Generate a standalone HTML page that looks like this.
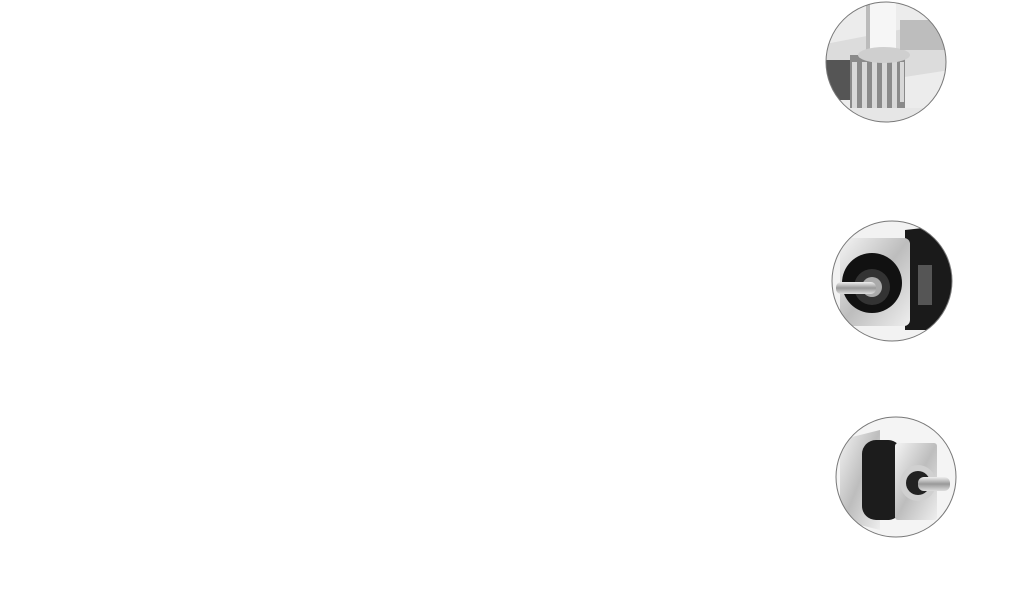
<!DOCTYPE html>
<html><head><meta charset="utf-8"><style>
html,body{margin:0;padding:0;background:#fff;width:1020px;height:608px;overflow:hidden}
svg{position:absolute;left:0;top:0}
</style></head><body>
<svg width="1020" height="608" viewBox="0 0 1020 608">
<defs>
<clipPath id="c1"><circle cx="886" cy="62" r="60"/></clipPath>
<clipPath id="c2"><circle cx="892" cy="281" r="60"/></clipPath>
<clipPath id="c3"><circle cx="896" cy="477" r="60"/></clipPath>
<linearGradient id="sil" x1="0" y1="0" x2="1" y2="1"><stop offset="0" stop-color="#f4f4f4"/><stop offset="0.5" stop-color="#bdbdbd"/><stop offset="1" stop-color="#eee"/></linearGradient>
<linearGradient id="shaft" x1="0" y1="0" x2="0" y2="1"><stop offset="0" stop-color="#eee"/><stop offset="0.5" stop-color="#999"/><stop offset="1" stop-color="#ddd"/></linearGradient>
</defs>
<!-- circle 1: gear rack -->
<g clip-path="url(#c1)">
<rect x="820" y="0" width="130" height="125" fill="#ececec"/>
<polygon points="820,45 950,20 950,70 820,90" fill="#dcdcdc"/>
<rect x="825" y="60" width="25" height="40" fill="#555"/>
<rect x="850" y="55" width="55" height="55" fill="#8a8a8a"/>
<g fill="#d8d8d8">
<rect x="852" y="62" width="5" height="46"/><rect x="862" y="62" width="5" height="46"/><rect x="872" y="62" width="5" height="46"/><rect x="882" y="62" width="5" height="46"/><rect x="892" y="62" width="5" height="46"/><rect x="900" y="62" width="4" height="40"/>
</g>
<rect x="868" y="0" width="28" height="52" fill="#f6f6f6"/>
<rect x="866" y="0" width="4" height="52" fill="#bbb"/>
<ellipse cx="884" cy="55" rx="26" ry="8" fill="#cfcfcf"/>
<rect x="900" y="20" width="45" height="30" fill="#bdbdbd"/>
<rect x="820" y="108" width="130" height="20" fill="#e6e6e6"/>
</g>
<circle cx="886" cy="62" r="60" fill="none" stroke="#777" stroke-width="1"/>
<!-- circle 2: servo motor -->
<g clip-path="url(#c2)">
<rect x="830" y="219" width="125" height="125" fill="#f2f2f2"/>
<polygon points="905,230 950,225 955,330 905,330" fill="#1a1a1a"/>
<rect x="840" y="238" width="70" height="88" rx="6" fill="url(#sil)"/>
<circle cx="872" cy="283" r="30" fill="#111"/>
<circle cx="872" cy="287" r="18" fill="#333"/>
<circle cx="872" cy="287" r="10" fill="#aaa"/>
<rect x="836" y="282" width="40" height="12" rx="5" fill="url(#shaft)"/>
<rect x="918" y="265" width="14" height="40" fill="#555"/>
</g>
<circle cx="892" cy="281" r="60" fill="none" stroke="#777" stroke-width="1"/>
<!-- circle 3: planetary gearbox -->
<g clip-path="url(#c3)">
<rect x="834" y="415" width="125" height="125" fill="#f4f4f4"/>
<polygon points="840,440 880,430 880,530 840,520" fill="url(#sil)"/>
<rect x="862" y="440" width="40" height="80" rx="14" fill="#1c1c1c"/>
<rect x="895" y="443" width="42" height="77" rx="3" fill="url(#sil)"/>
<circle cx="918" cy="483" r="18" fill="#d0d0d0"/>
<circle cx="918" cy="483" r="12" fill="#222"/>
<rect x="918" y="477" width="32" height="14" rx="6" fill="url(#shaft)"/>
</g>
<circle cx="896" cy="477" r="60" fill="none" stroke="#777" stroke-width="1"/>
</svg>
</body></html>
